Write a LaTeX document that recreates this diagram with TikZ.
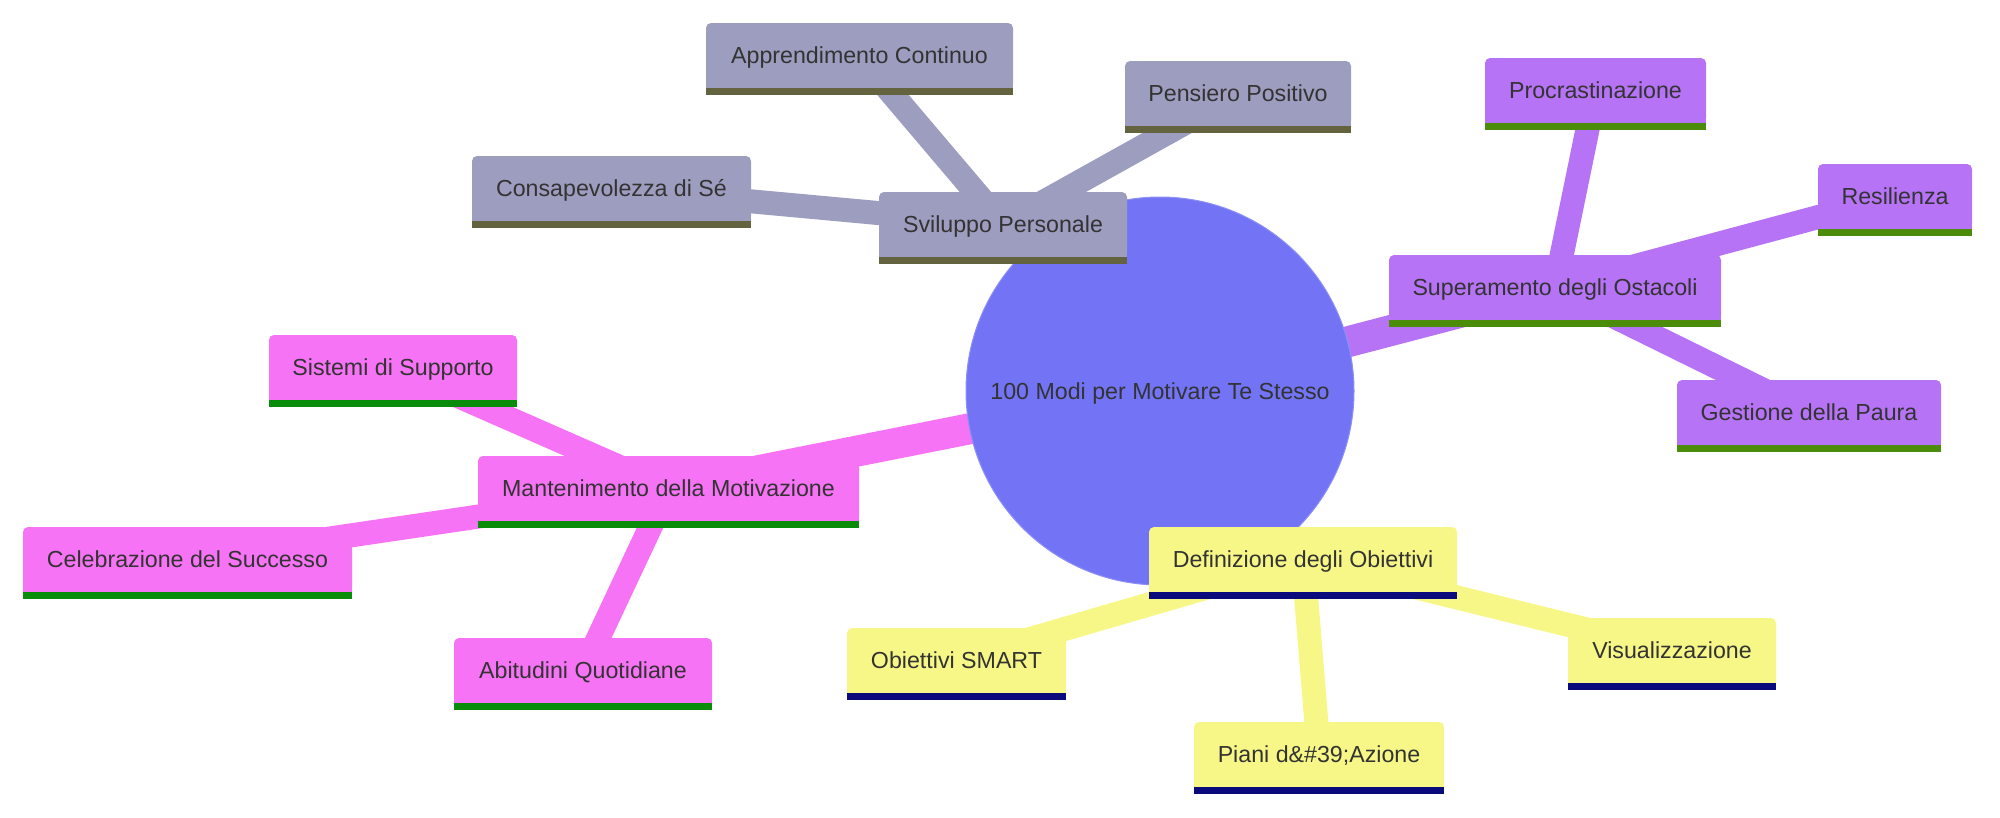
\documentclass[tikz,border=0pt]{standalone}
\usepackage{fontspec}
\setmainfont{Liberation Sans}
\newcommand\mmfont{\fontsize{23.2}{28}\selectfont}
\pgfdeclarelayer{bg}
\pgfsetlayers{bg,main}
\definecolor{txt}{RGB}{51,51,51}
\definecolor{rootc}{RGB}{114,116,245}
\definecolor{gfill}{RGB}{157,157,192}
\definecolor{gline}{RGB}{99,99,64}
\definecolor{pfill}{RGB}{182,115,245}
\definecolor{pline}{RGB}{75,140,10}
\definecolor{kfill}{RGB}{247,115,245}
\definecolor{kline}{RGB}{8,140,10}
\definecolor{yfill}{RGB}{247,247,135}
\definecolor{navyline}{RGB}{10,10,125}
\begin{document}
\begin{tikzpicture}[x=1pt,y=-1pt,
  box/.style={rectangle, rounded corners=5pt, minimum height=65pt, inner sep=0pt,
    text height=18pt, text depth=2pt, font=\mmfont, text=txt},
  lone/.style={line width=31pt},
  ltwo/.style={line width=24pt}]
\useasboundingbox (0,0) rectangle (2000,817);
% root
\node[circle, fill=rootc, draw=rootc!80!white, line width=1pt, minimum size=388pt, inner sep=0pt,
  font=\mmfont, text=txt, text height=18pt, text depth=2pt] (root) at (1160,391) {100 Modi per Motivare Te Stesso};
% Sviluppo Personale
\node[box, fill=gfill, minimum width=248pt] (sp) at (1003,224.5) {Sviluppo Personale};
\node[box, fill=gfill, minimum width=307pt] (ac) at (859.5,55.5) {Apprendimento Continuo};
\node[box, fill=gfill, minimum width=226pt] (pp) at (1238,93.5) {Pensiero Positivo};
\node[box, fill=gfill, minimum width=279pt] (cs) at (611.5,188.5) {Consapevolezza di Sé};
% Superamento degli Ostacoli
\node[box, fill=pfill, minimum width=332pt] (so) at (1555,287.5) {Superamento degli Ostacoli};
\node[box, fill=pfill, minimum width=221pt] (pr) at (1595.5,90.5) {Procrastinazione};
\node[box, fill=pfill, minimum width=154pt] (re) at (1895,196.5) {Resilienza};
\node[box, fill=pfill, minimum width=264pt] (gp) at (1809,412.5) {Gestione della Paura};
% Mantenimento della Motivazione
\node[box, fill=kfill, minimum width=381pt] (mm) at (668.5,488.5) {Mantenimento della Motivazione};
\node[box, fill=kfill, minimum width=248pt] (ss) at (393,367.5) {Sistemi di Supporto};
\node[box, fill=kfill, minimum width=329pt] (cel) at (187.5,559.5) {Celebrazione del Successo};
\node[box, fill=kfill, minimum width=258pt] (ab) at (583,670.5) {Abitudini Quotidiane};
% Definizione degli Obiettivi
\node[box, fill=yfill, minimum width=308pt] (dob) at (1303,559.5) {Definizione degli Obiettivi};
\node[box, fill=yfill, minimum width=219pt] (os) at (956.5,660.5) {Obiettivi SMART};
\node[box, fill=yfill, minimum width=250pt] (pa) at (1319,754.5) {Piani d\&\#39;Azione};
\node[box, fill=yfill, minimum width=208pt] (vi) at (1672,650.5) {Visualizzazione};
% square lower corners and bottom bars
\foreach \nn/\cc/\bb in {sp/gfill/gline, ac/gfill/gline, pp/gfill/gline, cs/gfill/gline,
    so/pfill/pline, pr/pfill/pline, re/pfill/pline, gp/pfill/pline,
    mm/kfill/kline, ss/kfill/kline, cel/kfill/kline, ab/kfill/kline,
    dob/yfill/navyline, os/yfill/navyline, pa/yfill/navyline, vi/yfill/navyline}{
  \fill[\cc] ([yshift=8pt]\nn.south west) rectangle (\nn.south east);
  \fill[\bb] (\nn.south west) rectangle ([yshift=-7pt]\nn.south east);
}
% connectors
\begin{pgfonlayer}{bg}
\draw[lone, gfill] (root.center) -- (sp.center);
\draw[lone, pfill] (root.center) -- (so.center);
\draw[lone, kfill] (root.center) -- (mm.center);
\draw[lone, yfill] (root.center) -- (dob.center);
\draw[ltwo, gfill] (sp.center) -- (ac.center);
\draw[ltwo, gfill] (sp.center) -- (pp.center);
\draw[ltwo, gfill] (sp.center) -- (cs.center);
\draw[ltwo, pfill] (so.center) -- (pr.center);
\draw[ltwo, pfill] (so.center) -- (re.center);
\draw[ltwo, pfill] (so.center) -- (gp.center);
\draw[ltwo, kfill] (mm.center) -- (ss.center);
\draw[ltwo, kfill] (mm.center) -- (cel.center);
\draw[ltwo, kfill] (mm.center) -- (ab.center);
\draw[ltwo, yfill] (dob.center) -- (os.center);
\draw[ltwo, yfill] (dob.center) -- (pa.center);
\draw[ltwo, yfill] (dob.center) -- (vi.center);
\end{pgfonlayer}
\end{tikzpicture}
\end{document}
